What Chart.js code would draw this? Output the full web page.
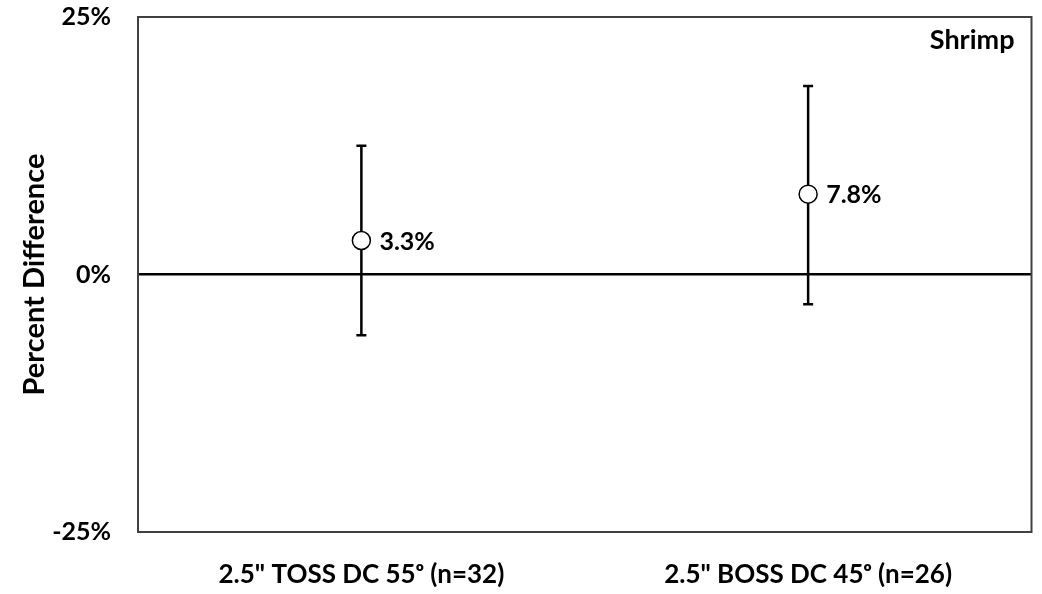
<!DOCTYPE html>
<html>
<head>
<meta charset="utf-8">
<script src="https://cdn.jsdelivr.net/npm/chart.js@4.4.1/dist/chart.umd.min.js"></script>
<style>
  html, body { margin: 0; padding: 0; background: #fff; }
  #wrap { width: 1042px; height: 594px; position: relative; }
</style>
</head>
<body>
<div id="wrap"><canvas id="chart"></canvas></div>
<script>
// Chart data
const categories = ['2.5" TOSS DC 55\u1D52 (n=32)', '2.5" BOSS DC 45\u1D52 (n=26)'];
const meanValues = [3.3, 7.8];
const upperValues = [12.5, 18.3];
const lowerValues = [-5.9, -2.9];
const pointLabels = ['3.3%', '7.8%'];
const yTicks = [-25, 0, 25];
const panelLabel = 'Shrimp';

const FONT = "Lato, 'Open Sans', sans-serif";

// Error bars, value labels, frame and panel label
const extrasPlugin = {
    id: 'extras',
    beforeDatasetsDraw(chart) {
        const ctx = chart.ctx;
        const x = chart.scales.x;
        const y = chart.scales.y;
        ctx.save();
        ctx.strokeStyle = '#000';
        ctx.lineWidth = 2.5;
        categories.forEach((c, i) => {
            const px = x.getPixelForValue(i);
            const top = y.getPixelForValue(upperValues[i]);
            const bot = y.getPixelForValue(lowerValues[i]);
            ctx.beginPath();
            ctx.moveTo(px, top); ctx.lineTo(px, bot);
            ctx.moveTo(px - 5, top); ctx.lineTo(px + 5, top);
            ctx.moveTo(px - 5, bot); ctx.lineTo(px + 5, bot);
            ctx.stroke();
        });
        ctx.restore();
    },
    afterDatasetsDraw(chart) {
        const ctx = chart.ctx;
        const a = chart.chartArea;
        const x = chart.scales.x;
        const y = chart.scales.y;
        ctx.save();
        ctx.strokeStyle = '#404040';
        ctx.lineWidth = 2;
        ctx.strokeRect(a.left, a.top, a.right - a.left, a.bottom - a.top);

        ctx.fillStyle = '#000';
        ctx.font = 'bold 25px ' + FONT;
        ctx.textAlign = 'left';
        ctx.textBaseline = 'middle';
        pointLabels.forEach((t, i) => {
            ctx.fillText(t, x.getPixelForValue(i) + 18, y.getPixelForValue(meanValues[i]) + 1);
        });

        ctx.font = 'bold 27px ' + FONT;
        ctx.textAlign = 'right';
        ctx.fillText(panelLabel, a.right - 17, a.top + 23);
        ctx.restore();
    }
};

new Chart(document.getElementById('chart'), {
    type: 'line',
    data: {
        labels: categories,
        datasets: [{
            data: meanValues,
            showLine: false,
            pointRadius: 9,
            pointHoverRadius: 9,
            pointBackgroundColor: '#fff',
            pointBorderColor: '#000',
            pointBorderWidth: 1.5
        }]
    },
    options: {
        responsive: true,
        maintainAspectRatio: false,
        animation: false,
        layout: { padding: { top: 17, right: 9, left: 0, bottom: 0 } },
        plugins: { legend: { display: false }, tooltip: { enabled: false } },
        scales: {
            x: {
                offset: true,
                grid: { display: false, drawTicks: false },
                border: { display: false },
                ticks: {
                    color: '#000',
                    font: { family: FONT, size: 26, weight: 'bold' },
                    padding: 27,
                    maxRotation: 0
                },
                afterFit(scale) {
                    scale.height = 62;
                    scale.paddingLeft = 0;
                    scale.paddingRight = 0;
                }
            },
            y: {
                min: -25,
                max: 25,
                afterBuildTicks(scale) { scale.ticks = yTicks.map(v => ({ value: v })); },
                grid: {
                    drawTicks: false,
                    color: c => (c.tick && c.tick.value === 0 ? '#000' : 'rgba(0,0,0,0)'),
                    lineWidth: 2.5
                },
                border: { display: false },
                ticks: {
                    color: '#000',
                    font: { family: FONT, size: 25, weight: 'bold' },
                    padding: 27,
                    callback: v => v + '%'
                },
                title: {
                    display: true,
                    text: 'Percent Difference',
                    color: '#000',
                    font: { family: FONT, size: 29, weight: 'bold' },
                    padding: { top: 17, bottom: 0 }
                },
                afterFit(scale) {
                    scale.width = 138;
                    scale.paddingTop = 0;
                    scale.paddingBottom = 0;
                }
            }
        }
    },
    plugins: [extrasPlugin]
});
</script>
</body>
</html>
